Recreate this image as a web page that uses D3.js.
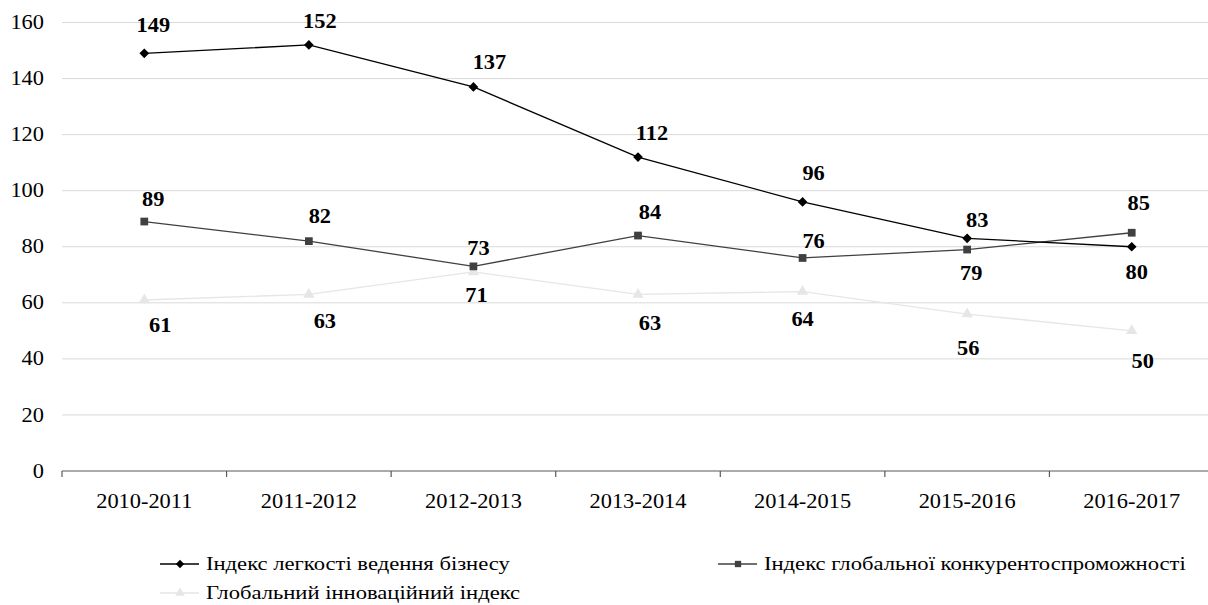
<!DOCTYPE html>
<html lang="uk">
<head>
    <meta charset="UTF-8">
    <title>Індекси України 2010-2017</title>
    <script src="https://d3js.org/d3.v7.min.js"></script>
    <style>
        body { margin: 0; background: #fff; }
        svg text { font-family: "Liberation Serif", "DejaVu Serif", "Times New Roman", Times, serif; }
    </style>
</head>
<body>
    <div id="chart"></div>

    <script>
        // Data
        const categories = ["2010-2011", "2011-2012", "2012-2013", "2013-2014", "2014-2015", "2015-2016", "2016-2017"];
        const easeValues = [149, 152, 137, 112, 96, 83, 80];
        const competitivenessValues = [89, 82, 73, 84, 76, 79, 85];
        const innovationValues = [61, 63, 71, 63, 64, 56, 50];
        const yTicks = [0, 20, 40, 60, 80, 100, 120, 140, 160];
        const seriesNames = [
            "Індекс легкості ведення бізнесу",
            "Індекс глобальної конкурентоспроможності",
            "Глобальний інноваційний індекс"
        ];

        // label nudges relative to the point (layout only)
        const easeLabelShift = [[9, -28], [11, -24], [16, -25], [14, -24], [11, -28], [10, -18], [5, 26]];
        const compLabelShift = [[9, -22], [11, -25], [5, -18], [12, -23], [11, -17], [4, 24], [7, -29]];
        const innovLabelShift = [[16, 25], [16, 27], [3, 23], [12, 29], [0, 28], [1, 34], [11, 31]];

        const width = 1208;
        const height = 605;
        const sx = 1.12; // text in the picture is a bit stretched sideways

        const svg = d3.select("#chart")
            .append("svg")
            .attr("width", width)
            .attr("height", height);

        const x = d3.scaleBand()
            .domain(categories)
            .range([62, 1214])
            .padding(0);
        const cx = d => x(d) + x.bandwidth() / 2;

        const y = d3.scaleLinear()
            .domain([0, 160])
            .range([471, 22.5]);

        // rotated square, like the Excel diamond marker
        const diamond = d3.symbolDiamond2 || d3.symbolSquare;

        function addText(g, px, py, str, opts) {
            return g.append("text")
                .attr("transform", `translate(${px},${py}) scale(${opts.sx || sx},1)`)
                .attr("text-anchor", opts.anchor || "middle")
                .attr("dominant-baseline", opts.baseline || "central")
                .style("font-size", opts.size + "px")
                .style("font-weight", opts.bold ? "bold" : "normal")
                .attr("fill", "#000")
                .text(str);
        }

        // gridlines
        svg.append("g")
            .selectAll("line")
            .data(yTicks.filter(v => v > 0))
            .join("line")
            .attr("x1", 62)
            .attr("x2", width)
            .attr("y1", d => y(d))
            .attr("y2", d => y(d))
            .attr("stroke", "#d9d9d9")
            .attr("stroke-width", 1);

        // y labels
        const yLab = svg.append("g");
        yTicks.forEach(v => addText(yLab, 44, y(v), v, { anchor: "end", size: 20 }));

        // x axis line + boundary ticks
        svg.append("line")
            .attr("x1", 62).attr("x2", width)
            .attr("y1", y(0)).attr("y2", y(0))
            .attr("stroke", "#595959")
            .attr("stroke-width", 1.2);
        svg.append("g")
            .selectAll("line")
            .data(categories)
            .join("line")
            .attr("x1", d => x(d)).attr("x2", d => x(d))
            .attr("y1", y(0)).attr("y2", y(0) + 6)
            .attr("stroke", "#595959")
            .attr("stroke-width", 1.2);

        const xLab = svg.append("g");
        categories.forEach(c => addText(xLab, cx(c), 501, c, { size: 20 }));

        const series = [
            { values: innovationValues, color: "#e6e6e6", marker: d3.symbolTriangle, size: 55, shift: innovLabelShift },
            { values: competitivenessValues, color: "#404040", marker: d3.symbolSquare, size: 60, shift: compLabelShift },
            { values: easeValues, color: "#000000", marker: diamond, size: 60, shift: easeLabelShift }
        ];

        const line = d3.line()
            .x((d, i) => cx(categories[i]))
            .y(d => y(d));

        series.forEach(s => {
            svg.append("path")
                .datum(s.values)
                .attr("d", line)
                .attr("fill", "none")
                .attr("stroke", s.color)
                .attr("stroke-width", 1.3);

            svg.append("g")
                .selectAll("path")
                .data(s.values)
                .join("path")
                .attr("d", d3.symbol().type(s.marker).size(s.size))
                .attr("transform", (d, i) => `translate(${cx(categories[i])},${y(d)})`)
                .attr("fill", s.color);
        });

        // data labels
        const labels = svg.append("g");
        series.forEach(s => {
            s.values.forEach((v, i) => {
                addText(labels, cx(categories[i]) + s.shift[i][0], y(v) + s.shift[i][1], v, { size: 20, bold: true });
            });
        });

        // legend
        const legendItems = [
            { name: seriesNames[0], color: "#000000", marker: diamond, size: 45, lx: 160, ly: 564 },
            { name: seriesNames[1], color: "#404040", marker: d3.symbolSquare, size: 40, lx: 718, ly: 564 },
            { name: seriesNames[2], color: "#e6e6e6", marker: d3.symbolTriangle, size: 40, lx: 160, ly: 593 }
        ];
        const legend = svg.append("g");
        legendItems.forEach(it => {
            legend.append("line")
                .attr("x1", it.lx).attr("x2", it.lx + 39)
                .attr("y1", it.ly).attr("y2", it.ly)
                .attr("stroke", it.color)
                .attr("stroke-width", 1.3);
            legend.append("path")
                .attr("d", d3.symbol().type(it.marker).size(it.size))
                .attr("transform", `translate(${it.lx + 20},${it.ly})`)
                .attr("fill", it.color);
            addText(legend, it.lx + 46, it.ly, it.name, { anchor: "start", size: 19, sx: 1.19 });
        });
    </script>
</body>
</html>
